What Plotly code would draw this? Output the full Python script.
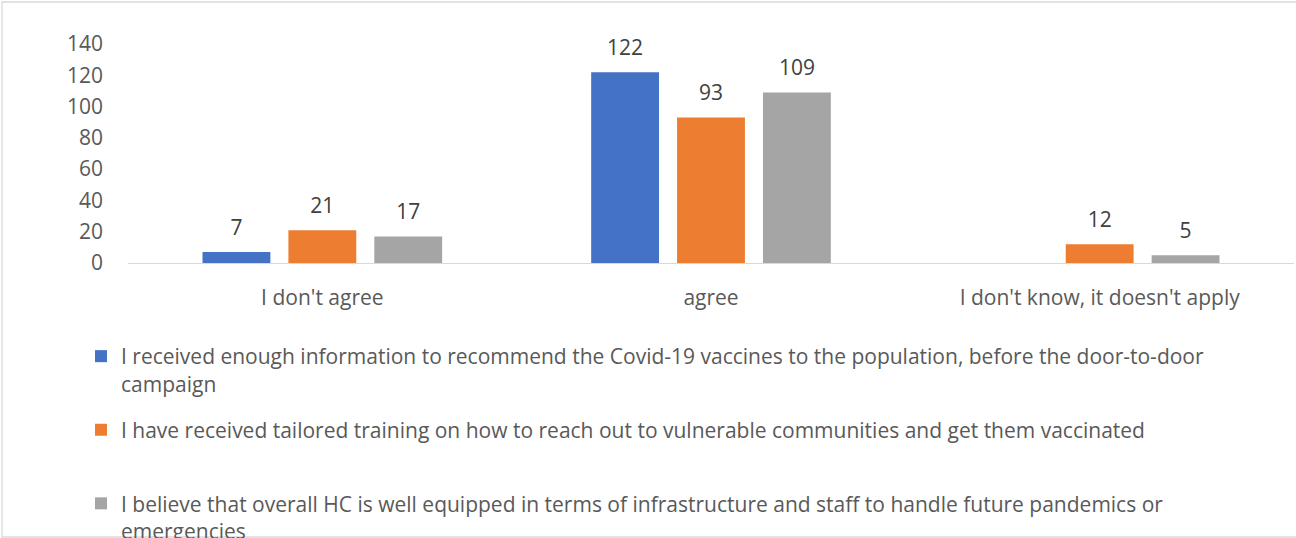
import plotly.graph_objects as go

categories = ["I don't agree", "agree", "I don't know, it doesn't apply"]
series_names = [
    "I received enough information to recommend the Covid-19 vaccines to the population, before the door-to-door<br>campaign",
    "I have received tailored training on how to reach out to vulnerable communities and get them vaccinated<br>&nbsp;",
    "I believe that overall HC is well equipped in terms of infrastructure and staff to handle future pandemics or<br>emergencies",
]
values_info = [7, 122, None]
values_training = [21, 93, 12]
values_equipped = [17, 109, 5]
series_values = [values_info, values_training, values_equipped]
colors = ["#4472C4", "#ED7D31", "#A5A5A5"]
y_ticks = [0, 20, 40, 60, 80, 100, 120, 140]

FONT = "Open Sans"
TXT = "#595959"
FS = 21
W, H = 1296, 538
L, R, T, B = 128, 2, 44, 275
BARGAP = 0.337

fig = go.Figure()
for i, (name, vals, col) in enumerate(zip(series_names, series_values, colors)):
    fig.add_trace(go.Bar(
        x=categories, y=vals, name=name, marker=dict(color=col, line=dict(width=0)),
        offsetgroup=str(i), legendgroup=str(i), hoverinfo="skip",
    ))
for i, vals in enumerate(series_values):
    fig.add_trace(go.Scatter(
        x=categories, y=vals, mode="markers+text", offsetgroup=str(i),
        text=[("" if v is None else str(v)) for v in vals], textposition="top center",
        textfont=dict(family=FONT, size=FS, color="#404040"),
        marker=dict(size=18, opacity=0), showlegend=False, hoverinfo="skip", cliponaxis=False,
    ))

pw = W - L - R
ph = H - T - B
fig.add_shape(type="rect", xref="paper", yref="paper",
              x0=(2 - L) / pw, x1=(1320 - L) / pw,
              y0=-(537 - T - ph) / ph, y1=(ph + T - 2) / ph,
              line=dict(color="#D9D9D9", width=1.3), fillcolor="rgba(0,0,0,0)", layer="below")

fig.update_layout(
    width=W, height=H,
    margin=dict(l=L, r=R, t=T, b=B, autoexpand=False),
    paper_bgcolor="white", plot_bgcolor="white",
    barmode="group", bargap=BARGAP, bargroupgap=0.21,
    scattermode="group", scattergap=BARGAP,
    font=dict(family=FONT, size=FS, color=TXT),
    showlegend=True,
    legend=dict(
        x=(81 - L) / pw, xanchor="left", y=-(336 - T - ph) / ph, yanchor="top",
        orientation="v", valign="top", tracegroupgap=16, bgcolor="rgba(0,0,0,0)",
        font=dict(family=FONT, size=FS, color=TXT), itemclick=False, itemdoubleclick=False,
    ),
    xaxis=dict(showline=True, linecolor="#D9D9D9", linewidth=1.3, showgrid=False,
               ticks="", ticklabelstandoff=16, tickfont=dict(family=FONT, size=FS, color=TXT),
               zeroline=False),
    yaxis=dict(range=[0, 140], tickvals=y_ticks, showgrid=False, showline=False, zeroline=False,
               ticks="", ticklabelstandoff=24, tickfont=dict(family=FONT, size=FS, color=TXT)),
)

fig.write_html("out.html", config={"displayModeBar": False},
               post_script="document.body.style.margin='0';document.body.style.overflow='hidden';")
